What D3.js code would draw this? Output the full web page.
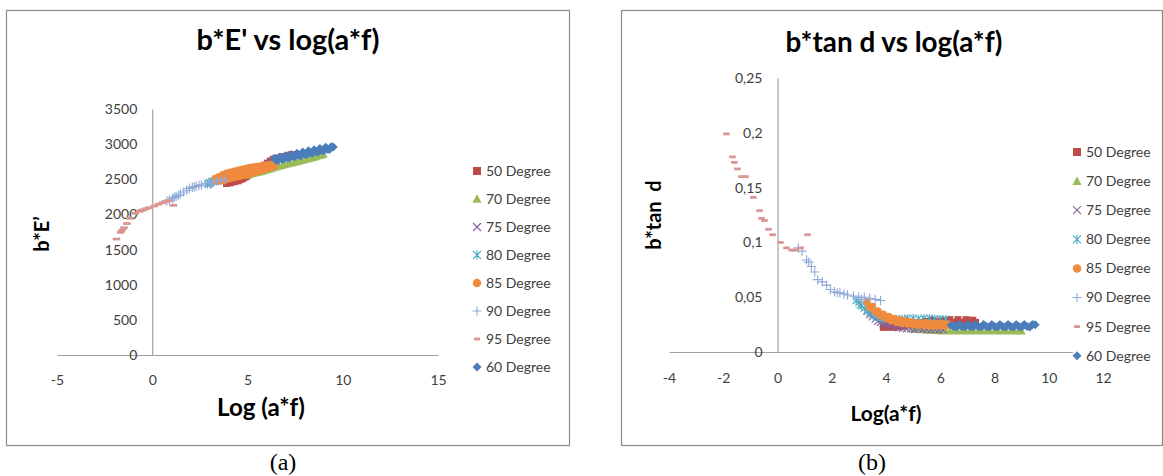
<!DOCTYPE html>
<html><head><meta charset="utf-8">
<script src="https://cdn.jsdelivr.net/npm/d3@7"></script>
<style>body{margin:0;background:#fff}svg{display:block}</style>
</head><body>
<svg id="c" width="1163" height="476"></svg>
<script>
// ---------------- DATA ----------------
const seriesNames = ["50 Degree","70 Degree","75 Degree","80 Degree","85 Degree","90 Degree","95 Degree","60 Degree"];

const x50 = [3.9,4.0,4.1,4.2,4.3,4.4,4.5,4.6,4.7,4.8,4.9,5.0,5.15,5.3,5.45,5.6,5.75,5.9,6.05,6.2,6.35,6.5,6.65,6.8,6.95,7.1,7.2,7.3];
const E50 = [2440,2455,2450,2470,2465,2480,2478,2495,2505,2520,2535,2550,2575,2600,2625,2650,2675,2700,2730,2760,2785,2795,2805,2815,2825,2835,2840,2850];
const T50 = [0.0225,0.0235,0.0225,0.024,0.0225,0.024,0.023,0.024,0.0235,0.025,0.025,0.026,0.027,0.027,0.028,0.0275,0.029,0.0275,0.029,0.0275,0.0295,0.027,0.0295,0.027,0.0295,0.027,0.029,0.027];

const x70 = [5.0,5.15,5.3,5.45,5.6,5.75,5.9,6.05,6.2,6.35,6.5,6.65,6.8,6.95,7.1,7.25,7.4,7.55,7.7,7.85,8.0,8.15,8.3,8.45,8.6,8.75,8.9,9.0];
const E70 = [2560,2570,2580,2590,2600,2610,2625,2635,2645,2660,2675,2685,2695,2705,2715,2725,2735,2745,2755,2765,2778,2788,2798,2808,2818,2832,2845,2855];
const T70 = [0.021,0.0205,0.0205,0.020,0.020,0.0195,0.0195,0.019,0.0195,0.019,0.0195,0.019,0.0195,0.019,0.0195,0.019,0.0195,0.019,0.0195,0.019,0.0195,0.019,0.0195,0.019,0.0195,0.019,0.0195,0.019];

const x75 = [3.3,3.4,3.5,3.6,3.7,3.8,3.9,4.0,4.15,4.3,4.45,4.6,4.75,4.9,5.05,5.2,5.35,5.5,5.65,5.8,5.95,6.1];
const E75 = [2470,2480,2490,2500,2510,2520,2530,2540,2550,2560,2570,2580,2590,2600,2610,2620,2630,2640,2650,2660,2670,2680];
const T75 = [0.037,0.034,0.032,0.030,0.028,0.027,0.026,0.025,0.024,0.023,0.022,0.0215,0.021,0.021,0.0205,0.021,0.0205,0.0205,0.020,0.0205,0.020,0.020];

const x80 = [2.9,3.0,3.05,3.1,3.2,3.3,3.4,3.5,3.65,3.8,4.0,4.2,4.4,4.6,4.8,5.0,5.2,5.4,5.6,5.8,6.0,6.2];
const E80 = [2430,2450,2440,2465,2470,2480,2490,2500,2515,2530,2550,2565,2580,2595,2610,2625,2640,2655,2670,2685,2700,2715];
const T80 = [0.047,0.045,0.043,0.042,0.040,0.038,0.036,0.034,0.032,0.031,0.030,0.030,0.030,0.0305,0.031,0.031,0.0305,0.031,0.031,0.0305,0.030,0.030];

const x85 = [3.3,3.4,3.5,3.6,3.7,3.8,3.9,4.0,4.1,4.2,4.3,4.4,4.5,4.6,4.7,4.8,4.9,5.0,5.1,5.2,5.3,5.4,5.5,5.6,5.7,5.8,5.9,6.0,6.1,6.2,6.3,6.4];
const E85 = [2510,2473,2537,2480,2564,2487,2586,2505,2601,2518,2614,2531,2627,2544,2640,2557,2653,2570,2666,2582,2675,2599,2683,2616,2690,2634,2698,2651,2704,2668,2712,2685];
const T85 = [0.0455,0.0405,0.0415,0.0365,0.0375,0.033,0.0345,0.0305,0.0325,0.0285,0.0305,0.027,0.0295,0.026,0.0285,0.0255,0.0275,0.025,0.027,0.0245,0.0265,0.0245,0.0265,0.024,0.026,0.024,0.026,0.024,0.026,0.024,0.0255,0.0245];

const x90 = [0.77,0.9,1.07,1.15,1.25,1.37,1.48,1.65,1.81,1.95,2.1,2.2,2.3,2.45,2.58,2.8,3.0,3.1,3.2,3.4,3.6,3.8];
const E90 = [2190,2205,2230,2240,2255,2270,2290,2320,2345,2370,2385,2390,2400,2410,2420,2440,2450,2430,2460,2475,2485,2495];
const T90 = [0.095,0.092,0.084,0.082,0.078,0.073,0.066,0.064,0.061,0.057,0.055,0.054,0.054,0.053,0.052,0.051,0.050,0.048,0.050,0.049,0.048,0.047];

const x95 = [-1.88,-1.66,-1.59,-1.48,-1.33,-1.18,-0.89,-0.66,-0.59,-0.48,-0.33,-0.18,0.11,0.33,0.52,0.66,0.85,1.11];
const E95 = [1650,1745,1775,1810,1870,1945,2015,2045,2055,2065,2080,2095,2120,2145,2165,2180,2195,2130];
const T95 = [0.199,0.178,0.173,0.167,0.160,0.160,0.141,0.129,0.122,0.120,0.112,0.107,0.100,0.095,0.093,0.093,0.095,0.107];

const x60 = [6.4,6.5,6.6,6.7,6.8,6.9,7.0,7.1,7.2,7.3,7.4,7.5,7.6,7.7,7.8,7.9,8.0,8.1,8.2,8.3,8.4,8.5,8.6,8.7,8.8,8.9,9.0,9.1,9.2,9.3,9.4,9.5];
const E60 = [2800,2771,2767,2817,2788,2784,2835,2806,2802,2852,2823,2819,2870,2841,2836,2887,2858,2854,2905,2876,2871,2922,2893,2889,2939,2910,2906,2957,2928,2923,2964,2960];
const T60 = [0.0245,0.0232,0.0228,0.025,0.0232,0.0228,0.025,0.0232,0.0228,0.025,0.0232,0.0228,0.025,0.0232,0.0228,0.025,0.0232,0.0228,0.025,0.0232,0.0228,0.025,0.0232,0.0228,0.025,0.0232,0.0228,0.025,0.0232,0.0228,0.025,0.0248];

const xTicksA = [-5,0,5,10,15];
const yTicksA = [0,500,1000,1500,2000,2500,3000,3500];
const xTicksB = [-4,-2,0,2,4,6,8,10,12];
const yTicksB = [0,0.05,0.1,0.15,0.2,0.25];
const yTickLabelsB = ["0","0,05","0,1","0,15","0,2","0,25"];

const seriesX = [x50,x70,x75,x80,x85,x90,x95,x60];
const seriesE = [E50,E70,E75,E80,E85,E90,E95,E60];
const seriesT = [T50,T70,T75,T80,T85,T90,T95,T60];

// ---------------- STYLE ----------------
const markerTypes = ["square","triangle","x","asterisk","circle","plus","dash","diamond"];
const colors = ["#BE4B48","#9BBB59","#8064A2","#4BACC6","#F08A3E","#8EA9D8","#D99694","#4A7DBA"];
const plotSizes = [7,8,7,7,7.5,9.5,7,9];
const legendSizes = [8,9,8,8,8.5,9,6,9];
const strokeTypes = new Set(["x","asterisk","plus"]);
const FONT = "Lato, 'Open Sans', sans-serif";

function markerPath(type, s) {
  const h = s/2;
  switch (type) {
    case "square": return `M${-h},${-h}h${s}v${s}h${-s}Z`;
    case "triangle": return `M0,${-h*1.1}L${h},${h*0.85}L${-h},${h*0.85}Z`;
    case "x": return `M${-h},${-h}L${h},${h}M${h},${-h}L${-h},${h}`;
    case "asterisk": return `M${-h},${-h}L${h},${h}M${h},${-h}L${-h},${h}M0,${-h*1.15}V${h*1.15}`;
    case "circle": return `M${h},0A${h},${h} 0 1,1 ${-h},0A${h},${h} 0 1,1 ${h},0Z`;
    case "plus": return `M${-h},0H${h}M0,${-h}V${h}`;
    case "dash": return `M${-h},-1.4h${s}v2.8h${-s}Z`;
    case "diamond": return `M0,${-h}L${h},0L0,${h}L${-h},0Z`;
  }
}
function styleMarker(sel, i) {
  if (strokeTypes.has(markerTypes[i])) sel.attr("fill","none").attr("stroke",colors[i]).attr("stroke-width",1.1);
  else sel.attr("fill",colors[i]).attr("stroke","none");
}
function fitText(t, w) {
  const cur = t.node().getComputedTextLength();
  const fs = parseFloat(t.attr("font-size"));
  t.attr("font-size", fs * w / cur);
}

const svg = d3.select("#c");
svg.append("rect").attr("width",1163).attr("height",476).attr("fill","#fff");

function drawChart(cfg) {
  const g = svg.append("g");
  g.append("rect").attr("x",cfg.frame[0]+0.5).attr("y",cfg.frame[1]+0.5)
    .attr("width",cfg.frame[2]-cfg.frame[0]).attr("height",cfg.frame[3]-cfg.frame[1])
    .attr("fill","#fff").attr("stroke","#8a8a8a").attr("stroke-width",1.2);

  const x = d3.scaleLinear().domain(cfg.xDomain).range(cfg.xRange);
  const y = d3.scaleLinear().domain(cfg.yDomain).range(cfg.yRange);

  const xa = g.append("g").attr("transform",`translate(0,${y(0)})`)
    .call(d3.axisBottom(x).tickValues(cfg.xTicks).tickSize(0).tickSizeOuter(0).tickPadding(cfg.xPad).tickFormat(d => String(d)));
  const ya = g.append("g").attr("transform",`translate(${x(0)},0)`)
    .call(d3.axisLeft(y).tickValues(cfg.yTicks).tickSize(0).tickSizeOuter(0).tickPadding(15).tickFormat(cfg.yFormat));
  [xa,ya].forEach(a => {
    a.select(".domain").attr("stroke","#a0a0a0").attr("stroke-width",1.2);
    a.selectAll("text").attr("font-family",FONT).attr("font-size",14).attr("fill","#404040");
  });

  const pts = g.append("g");
  seriesNames.forEach((name,i) => {
    const data = d3.zip(seriesX[i], cfg.values[i]);
    const size = (markerTypes[i]==="dash") ? cfg.dashSize : plotSizes[i];
    pts.selectAll(null).data(data).join("path")
      .attr("transform", d => `translate(${x(d[0])},${y(d[1])})`)
      .attr("d", markerPath(markerTypes[i], size))
      .call(styleMarker, i);
  });

  // legend
  const lg = g.append("g");
  lg.append("rect").attr("x",cfg.legend[0]-4).attr("y",cfg.legend[1]-12)
    .attr("width",86).attr("height",cfg.legendStep*7+24).attr("fill","#fff");
  seriesNames.forEach((name,i) => {
    const row = lg.append("g").attr("transform",`translate(${cfg.legend[0]},${cfg.legend[1]+i*cfg.legendStep})`);
    row.append("path").attr("d", markerPath(markerTypes[i], legendSizes[i])).call(styleMarker, i);
    row.append("text").attr("x",9).attr("dy","0.35em").attr("font-family",FONT).attr("font-size",14)
      .attr("fill","#404040").text(name);
  });

  // titles
  const t = g.append("text").attr("x",cfg.title[0]).attr("y",cfg.title[1]).attr("dy","0.35em")
    .attr("text-anchor","middle").attr("font-family",FONT).attr("font-weight","bold").attr("font-size",22)
    .attr("fill","#000").text(cfg.titleText);
  fitText(t, cfg.title[2]);
  const xt = g.append("text").attr("x",cfg.xTitle[0]).attr("y",cfg.xTitle[1]).attr("dy","0.35em")
    .attr("text-anchor","middle").attr("font-family",FONT).attr("font-weight","bold").attr("font-size",18)
    .attr("fill","#000").text(cfg.xTitleText);
  fitText(xt, cfg.xTitle[2]);
  g.append("text").attr("transform",`translate(${cfg.yTitle[0]},${cfg.yTitle[1]}) rotate(-90)`)
    .attr("dy","0.35em").attr("text-anchor","middle").attr("font-family",FONT).attr("font-weight","bold")
    .attr("font-size",20).attr("fill","#000").style("white-space","pre").text(cfg.yTitleText);

  g.append("text").attr("x",cfg.caption[0]).attr("y",cfg.caption[1]).attr("text-anchor","middle")
    .attr("font-family","'Liberation Serif', 'Times New Roman', serif").attr("font-size",24)
    .attr("fill","#000").text(cfg.captionText);
}

drawChart({
  frame:[6,10,569,445],
  xDomain:[-5,15], xRange:[57,438], yDomain:[0,3500], yRange:[355,109],
  xTicks:xTicksA, yTicks:yTicksA, xPad:20, yFormat:d => String(d),
  values:seriesE, dashSize:7.5,
  legend:[477,171], legendStep:28,
  title:[288,40,183], titleText:"b*E' vs log(a*f)",
  xTitle:[261,408,88], xTitleText:"Log (a*f)",
  yTitle:[42,234], yTitleText:"b*E’",
  caption:[283,470], captionText:"(a)"
});
drawChart({
  frame:[621,10,1162,445],
  xDomain:[-4,12], xRange:[669,1103], yDomain:[0,0.25], yRange:[352,78],
  xTicks:xTicksB, yTicks:yTicksB, xPad:21, yFormat:d => yTickLabelsB[yTicksB.indexOf(d)],
  values:seriesT, dashSize:6.5,
  legend:[1077,152], legendStep:29.1,
  title:[894,42,217], titleText:"b*tan d vs log(a*f)",
  xTitle:[886,414,71], xTitleText:"Log(a*f)",
  yTitle:[654,215], yTitleText:"b*tan  d",
  caption:[872,470], captionText:"(b)"
});
</script>
</body></html>
